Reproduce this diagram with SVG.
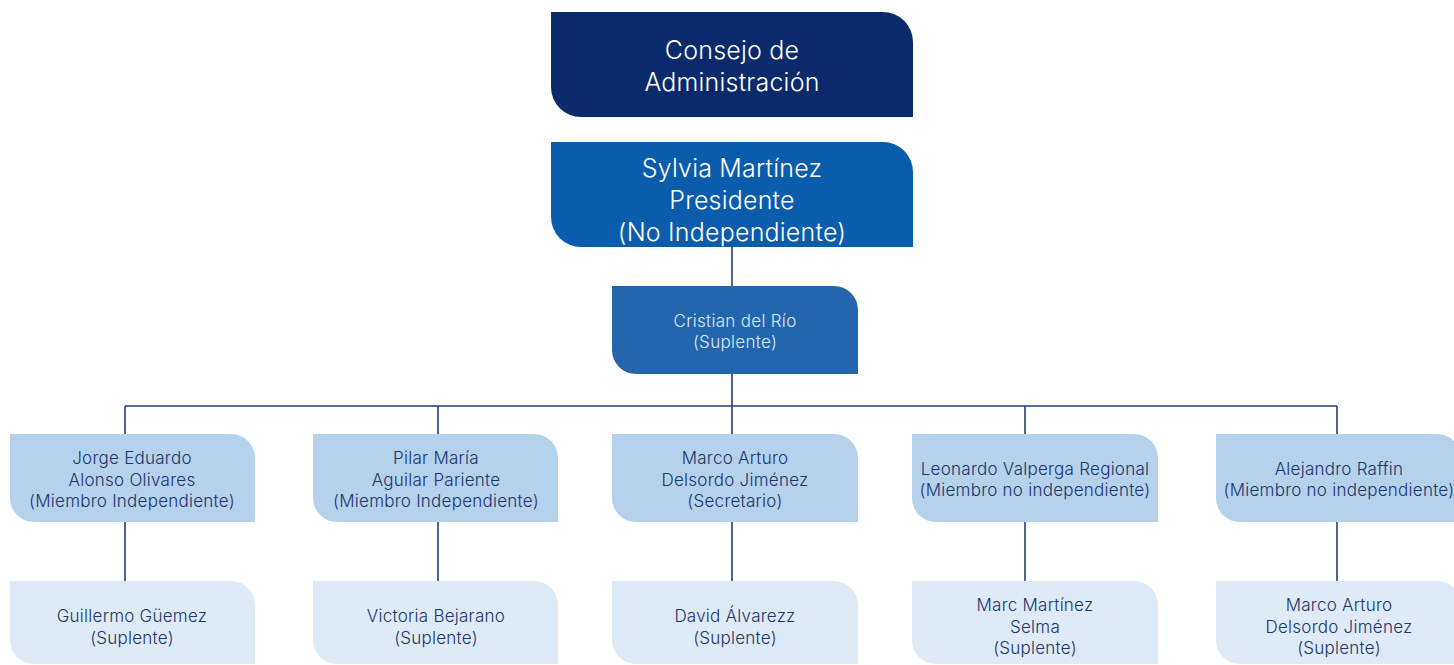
<svg xmlns="http://www.w3.org/2000/svg" width="1454" height="665" viewBox="0 0 1454 665">
<style>
  .t { font-family: Inter, "Liberation Sans", Arial, sans-serif; text-anchor: middle; font-weight: 300; }
  .big { font-size: 25px; letter-spacing: 0.2px; fill: #ffffff; }
  .mid { font-size: 17px; letter-spacing: 0.3px; fill: #dce8f6; }
  .sm { font-size: 17px; letter-spacing: 0.25px; fill: #1c356c; }
  .c1 { fill: #0a2a6c; }
  .c2 { fill: #0a5cac; }
  .c3 { fill: #2366ae; }
  .c4 { fill: #b4d2ec; }
  .c5 { fill: #deebf7; }
  .ln { stroke: #233f7c; stroke-width: 1.6; fill: none; }
</style>
<rect width="1454" height="665" fill="#ffffff"/>
<g id="connectors">
  <path class="ln" d="M732 247 V286 M732 374 V406 M125 406 H1337 M125 406 V434 M438 406 V434 M732 406 V434 M1025 406 V434 M1337 406 V434 M125 522 V581 M438 522 V581 M732 522 V581 M1025 522 V581 M1337 522 V581"/>
</g>
<g id="consejo">
  <path class="c1" d="M551 12 H883 A30 30 0 0 1 913 42 V117 H581 A30 30 0 0 1 551 87 Z"/>
  <text class="t big" x="732" y="59">Consejo de</text>
  <text class="t big" x="732" y="91">Administración</text>
</g>
<g id="presidente">
  <path class="c2" d="M551 142 H883 A30 30 0 0 1 913 172 V247 H581 A30 30 0 0 1 551 217 Z"/>
  <text class="t big" x="732" y="177">Sylvia Martínez</text>
  <text class="t big" x="732" y="209">Presidente</text>
  <text class="t big" x="732" y="241">(No Independiente)</text>
</g>
<g id="cristian">
  <path class="c3" d="M612 286 H834 A24 24 0 0 1 858 310 V374 H636 A24 24 0 0 1 612 350 Z"/>
  <text class="t mid" x="735" y="327">Cristian del Río</text>
  <text class="t mid" x="735" y="348">(Suplente)</text>
</g>
<g id="jorge">
  <path class="c4" d="M10 434 H231 A24 24 0 0 1 255 458 V522 H34 A24 24 0 0 1 10 498 Z"/>
  <text class="t sm" x="132" y="464">Jorge Eduardo</text>
  <text class="t sm" x="132" y="485.5">Alonso Olivares</text>
  <text class="t sm" x="132" y="507">(Miembro Independiente)</text>
</g>
<g id="pilar">
  <path class="c4" d="M313 434 H534 A24 24 0 0 1 558 458 V522 H337 A24 24 0 0 1 313 498 Z"/>
  <text class="t sm" x="436" y="464">Pilar María</text>
  <text class="t sm" x="436" y="485.5">Aguilar Pariente</text>
  <text class="t sm" x="436" y="507">(Miembro Independiente)</text>
</g>
<g id="marco">
  <path class="c4" d="M612 434 H834 A24 24 0 0 1 858 458 V522 H636 A24 24 0 0 1 612 498 Z"/>
  <text class="t sm" x="735" y="464">Marco Arturo</text>
  <text class="t sm" x="735" y="485.5">Delsordo Jiménez</text>
  <text class="t sm" x="735" y="507">(Secretario)</text>
</g>
<g id="leonardo">
  <path class="c4" d="M912 434 H1134 A24 24 0 0 1 1158 458 V522 H936 A24 24 0 0 1 912 498 Z"/>
  <text class="t sm" x="1035" y="474.5">Leonardo Valperga Regional</text>
  <text class="t sm" x="1035" y="496">(Miembro no independiente)</text>
</g>
<g id="alejandro">
  <path class="c4" d="M1216 434 H1437 A24 24 0 0 1 1461 458 V522 H1240 A24 24 0 0 1 1216 498 Z"/>
  <text class="t sm" x="1339" y="474.5">Alejandro Raffin</text>
  <text class="t sm" x="1339" y="496">(Miembro no independiente)</text>
</g>
<g id="guillermo">
  <path class="c5" d="M10 581 H231 A24 24 0 0 1 255 605 V664 H34 A24 24 0 0 1 10 640 Z"/>
  <text class="t sm" x="132" y="622">Guillermo Güemez</text>
  <text class="t sm" x="132" y="643.5">(Suplente)</text>
</g>
<g id="victoria">
  <path class="c5" d="M313 581 H534 A24 24 0 0 1 558 605 V664 H337 A24 24 0 0 1 313 640 Z"/>
  <text class="t sm" x="436" y="622">Victoria Bejarano</text>
  <text class="t sm" x="436" y="643.5">(Suplente)</text>
</g>
<g id="david">
  <path class="c5" d="M612 581 H834 A24 24 0 0 1 858 605 V664 H636 A24 24 0 0 1 612 640 Z"/>
  <text class="t sm" x="735" y="622">David Álvarezz</text>
  <text class="t sm" x="735" y="643.5">(Suplente)</text>
</g>
<g id="marc">
  <path class="c5" d="M912 581 H1134 A24 24 0 0 1 1158 605 V664 H936 A24 24 0 0 1 912 640 Z"/>
  <text class="t sm" x="1035" y="611">Marc Martínez</text>
  <text class="t sm" x="1035" y="632.5">Selma</text>
  <text class="t sm" x="1035" y="654">(Suplente)</text>
</g>
<g id="marco2">
  <path class="c5" d="M1216 581 H1437 A24 24 0 0 1 1461 605 V664 H1240 A24 24 0 0 1 1216 640 Z"/>
  <text class="t sm" x="1339" y="611">Marco Arturo</text>
  <text class="t sm" x="1339" y="632.5">Delsordo Jiménez</text>
  <text class="t sm" x="1339" y="654">(Suplente)</text>
</g>
</svg>
